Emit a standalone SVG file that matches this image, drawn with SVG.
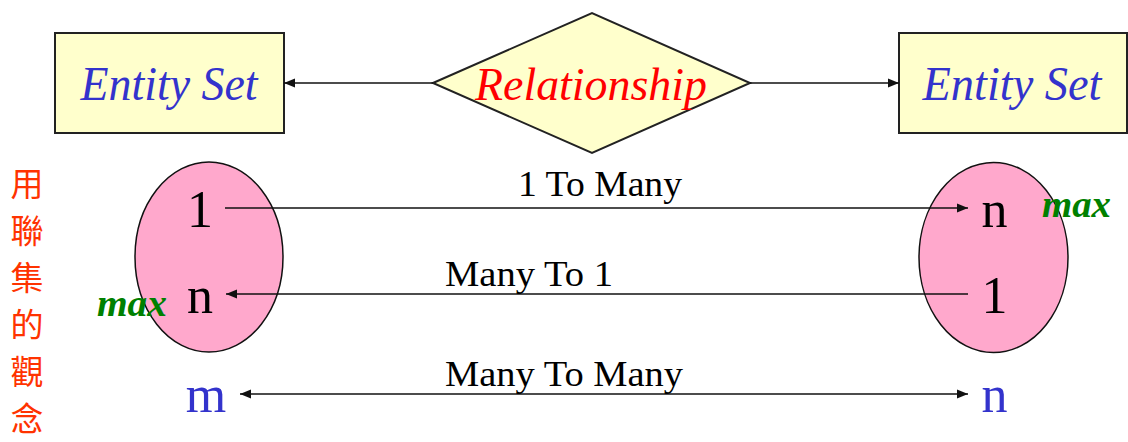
<svg xmlns="http://www.w3.org/2000/svg" width="1128" height="442" viewBox="0 0 1128 442">
<defs>
<style>
.box{fill:#FFFFCC;stroke:#222;stroke-width:2}
.et{font-family:"Liberation Serif",serif;font-style:italic;font-size:48px;fill:#3333CC;text-anchor:middle}
.rel{font-family:"Liberation Serif",serif;font-style:italic;font-size:47px;fill:#FF0000;text-anchor:middle}
.ell{fill:#FFA8CC;stroke:#111;stroke-width:1.5}
.num{font-family:"Liberation Serif",serif;font-size:52px;fill:#000;text-anchor:middle}
.blue{fill:#3333CC}
.max{font-family:"Liberation Serif",serif;font-style:italic;font-weight:bold;font-size:38px;fill:#008000}
.lbl{font-family:"Liberation Serif",serif;font-size:36px;fill:#000}
.cjk{font-family:"Noto Sans CJK TC","Noto Sans CJK SC",sans-serif;font-size:33px;fill:#FF3300;text-anchor:middle}
.ln{stroke:#111;stroke-width:1.6;fill:none}
</style>
<marker id="ah" markerWidth="11" markerHeight="10" refX="11" refY="5" orient="auto-start-reverse" markerUnits="userSpaceOnUse">
<path d="M0,0.5 L11,5 L0,9.5 z" fill="#111"/>
</marker>
</defs>
<rect width="1128" height="442" fill="#fff"/>

<g id="entity-left">
<rect class="box" x="55" y="33" width="229" height="100"/>
<text class="et" x="169" y="100" textLength="177" lengthAdjust="spacingAndGlyphs">Entity Set</text>
</g>
<g id="relationship">
<polygon class="box" points="433,83 592,13 750,83 592,153"/>
<text class="rel" x="591" y="100" textLength="232" lengthAdjust="spacingAndGlyphs">Relationship</text>
</g>
<g id="entity-right">
<rect class="box" x="899" y="33" width="228" height="100"/>
<text class="et" x="1012" y="100" textLength="179" lengthAdjust="spacingAndGlyphs">Entity Set</text>
</g>

<g id="ellipse-left">
<ellipse class="ell" cx="209" cy="257" rx="74" ry="95"/>
<text class="num" x="200" y="227">1</text>
<text class="num" x="200" y="313">n</text>
</g>
<g id="ellipse-right">
<ellipse class="ell" cx="993.5" cy="257.5" rx="74.5" ry="95"/>
<text class="num" x="994.5" y="227">n</text>
<text class="num" x="994.5" y="313">1</text>
</g>
<g id="max-left"><text class="max" x="97" y="316" textLength="70" lengthAdjust="spacingAndGlyphs">max</text></g>
<g id="max-right"><text class="max" x="1042" y="217" textLength="69" lengthAdjust="spacingAndGlyphs">max</text></g>
<g id="m-left"><text class="num blue" x="206" y="412">m</text></g>
<g id="n-right"><text class="num blue" x="994.5" y="412">n</text></g>

<g id="connectors">
<line class="ln" x1="433" y1="83" x2="284" y2="83" marker-end="url(#ah)"/>
<line class="ln" x1="750" y1="83" x2="899" y2="83" marker-end="url(#ah)"/>
<line class="ln" x1="225" y1="208" x2="968" y2="208" marker-end="url(#ah)"/>
<line class="ln" x1="968" y1="294" x2="226" y2="294" marker-end="url(#ah)"/>
<line class="ln" x1="240" y1="394" x2="968" y2="394" marker-start="url(#ah)" marker-end="url(#ah)"/>
</g>
<g id="labels">
<text class="lbl" x="518" y="196" textLength="164" lengthAdjust="spacingAndGlyphs">1 To Many</text>
<text class="lbl" x="445" y="286" textLength="168" lengthAdjust="spacingAndGlyphs">Many To 1</text>
<text class="lbl" x="445" y="386" textLength="238" lengthAdjust="spacingAndGlyphs">Many To Many</text>
</g>
<g id="side-title">
<text class="cjk"><tspan x="27" y="196">用</tspan><tspan x="27" y="243">聯</tspan><tspan x="27" y="290">集</tspan><tspan x="27" y="337">的</tspan><tspan x="27" y="384">觀</tspan><tspan x="27" y="431">念</tspan></text>
</g>
</svg>
